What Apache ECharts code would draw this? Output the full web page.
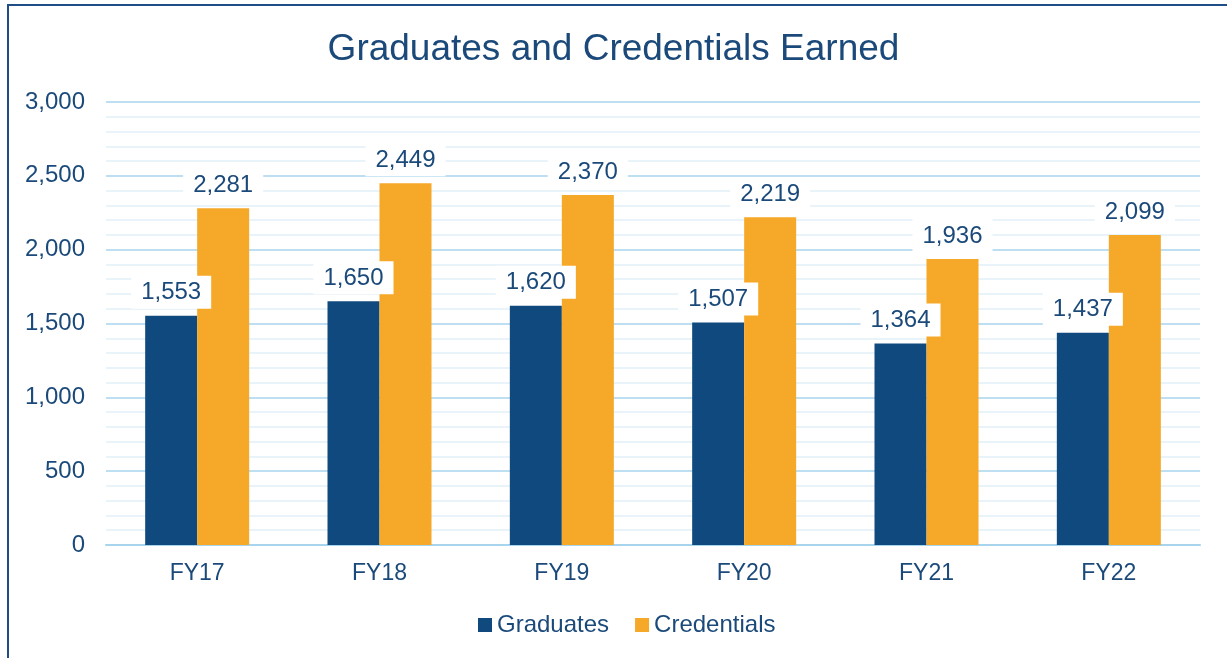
<!DOCTYPE html>
<html><head><meta charset="utf-8">
<script src="https://cdn.jsdelivr.net/npm/echarts@6/dist/echarts.min.js"></script>
<style>html,body{margin:0;padding:0;background:#fff}#c{width:1227px;height:658px}</style>
</head><body><div id="c"></div>
<script>
var categories = ['FY17','FY18','FY19','FY20','FY21','FY22'];
var graduates = [1553,1650,1620,1507,1364,1437];
var credentials = [2281,2449,2370,2219,1936,2099];
var yTicks = {min:0, max:3000, interval:500};

var txt = '#1b4a7a';
var font = 'Liberation Sans, Arial, sans-serif';
var lbl = {show:true, position:'top', distance:7, color:txt, fontSize:24, fontFamily:font,
  backgroundColor:'#fff', padding:[5,10,4,10],
  formatter:function(p){return p.value.toLocaleString('en-US');}};
var chart = echarts.init(document.getElementById('c'));
chart.setOption({
  animation:false,
  graphic:[{type:'rect', shape:{x:8,y:5,width:1400,height:800}, style:{fill:'none', stroke:'#1f4e86', lineWidth:2}, silent:true}],
  title:{text:'Graduates and Credentials Earned', left:'center', top:26,
    textStyle:{color:txt, fontSize:37, fontWeight:'normal', fontFamily:font}},
  legend:{bottom:16, left:473, itemWidth:14, itemHeight:14, itemGap:26, icon:'rect',
    textStyle:{color:txt, fontSize:24, fontFamily:font}, data:['Graduates','Credentials']},
  grid:{left:106, right:27, top:102, bottom:113},
  xAxis:{type:'category', data:categories,
    axisLine:{lineStyle:{color:'#a9d4ee', width:2}}, axisTick:{show:false},
    axisLabel:{color:txt, fontSize:23, fontFamily:font, margin:17}},
  yAxis:{type:'value', min:yTicks.min, max:yTicks.max, interval:yTicks.interval,
    axisLine:{show:false}, axisTick:{show:false},
    axisLabel:{color:txt, fontSize:24, fontFamily:font, margin:21,
      formatter:function(v){return v.toLocaleString('en-US');}},
    splitLine:{lineStyle:{color:'#a9d4ee', width:1.5}},
    minorTick:{show:false, splitNumber:5},
    minorSplitLine:{show:true, lineStyle:{color:'#e2eff9', width:1.5}}},
  series:[
    {name:'Graduates', type:'bar', data:graduates, itemStyle:{color:'#10497e'},
     barWidth:52, barGap:'0%', label:lbl},
    {name:'Credentials', type:'bar', data:credentials, itemStyle:{color:'#f6a828'},
     barWidth:52, barGap:'0%', label:lbl}
  ]
});
</script></body></html>
